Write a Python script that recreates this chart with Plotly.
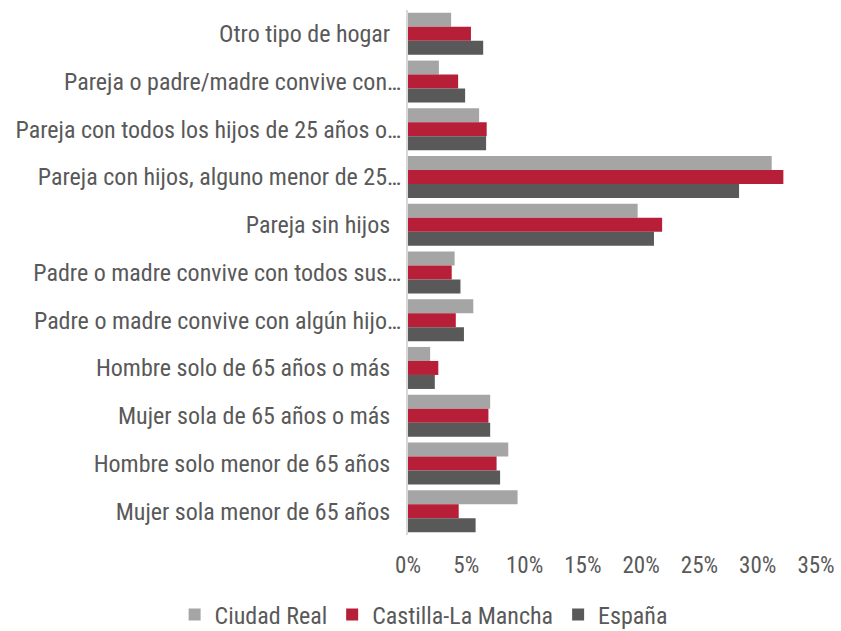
import plotly.graph_objects as go

# Household types, top to bottom
categorias = [
    "Otro tipo de hogar",
    "Pareja o padre/madre convive con…",
    "Pareja con todos los hijos de 25 años o…",
    "Pareja con hijos, alguno menor de 25…",
    "Pareja sin hijos",
    "Padre o madre convive con todos sus…",
    "Padre o madre convive con algún hijo…",
    "Hombre solo de 65 años o más",
    "Mujer sola de 65 años o más",
    "Hombre solo menor de 65 años",
    "Mujer sola menor de 65 años",
]

# Share of households (%)
ciudad_real = [3.7, 2.65, 6.1, 31.2, 19.7, 4.0, 5.6, 1.9, 7.05, 8.6, 9.4]
castilla_la_mancha = [5.4, 4.3, 6.75, 32.2, 21.8, 3.75, 4.1, 2.6, 6.9, 7.6, 4.35]
espana = [6.45, 4.9, 6.7, 28.4, 21.1, 4.5, 4.8, 2.3, 7.05, 7.9, 5.8]

x_ticks = [0, 5, 10, 15, 20, 25, 30, 35]
x_tick_labels = [f"{v}%" for v in x_ticks]

series = [
    ("Ciudad Real", ciudad_real, "#A5A5A5"),
    ("Castilla-La Mancha", castilla_la_mancha, "#B71E37"),
    ("España", espana, "#595959"),
]

FONT = "Roboto Condensed, Liberation Sans Narrow, DejaVu Sans Condensed, Roboto, sans-serif"

# Full labels get a little trailing room, truncated ones end with the ellipsis
etiquetas = [c if c.endswith("…") else c + "\u00a0\u00a0" for c in categorias]

fig = go.Figure()
for nombre, valores, color in series:
    fig.add_trace(go.Bar(
        y=categorias,
        x=valores,
        name=nombre,
        orientation="h",
        marker=dict(color=color, line=dict(width=0)),
    ))

fig.update_layout(
    width=841,
    height=631,
    barmode="group",
    bargap=0.12,
    bargroupgap=0,
    plot_bgcolor="white",
    paper_bgcolor="white",
    margin=dict(l=408, r=25, t=10, b=96, autoexpand=False),
    font=dict(family=FONT, size=23, color="#595959"),
    legend=dict(
        orientation="h",
        xref="paper",
        yref="paper",
        x=-0.572,
        xanchor="left",
        y=-0.152,
        yanchor="middle",
        font=dict(family=FONT, size=24, color="#595959"),
        itemwidth=30,
        tracegroupgap=0,
    ),
    showlegend=True,
)

fig.update_xaxes(
    range=[0, 35],
    tickmode="array",
    tickvals=x_ticks,
    ticktext=x_tick_labels,
    showgrid=False,
    zeroline=False,
    showline=False,
    ticks="",
    ticklabelstandoff=14,
    tickfont=dict(size=23),
)

fig.update_yaxes(
    autorange="reversed",
    tickmode="array",
    tickvals=categorias,
    ticktext=etiquetas,
    showgrid=False,
    showline=True,
    linecolor="#D9D9D9",
    linewidth=2,
    ticks="",
    tickfont=dict(size=24),
)

fig.write_html("out.html")
